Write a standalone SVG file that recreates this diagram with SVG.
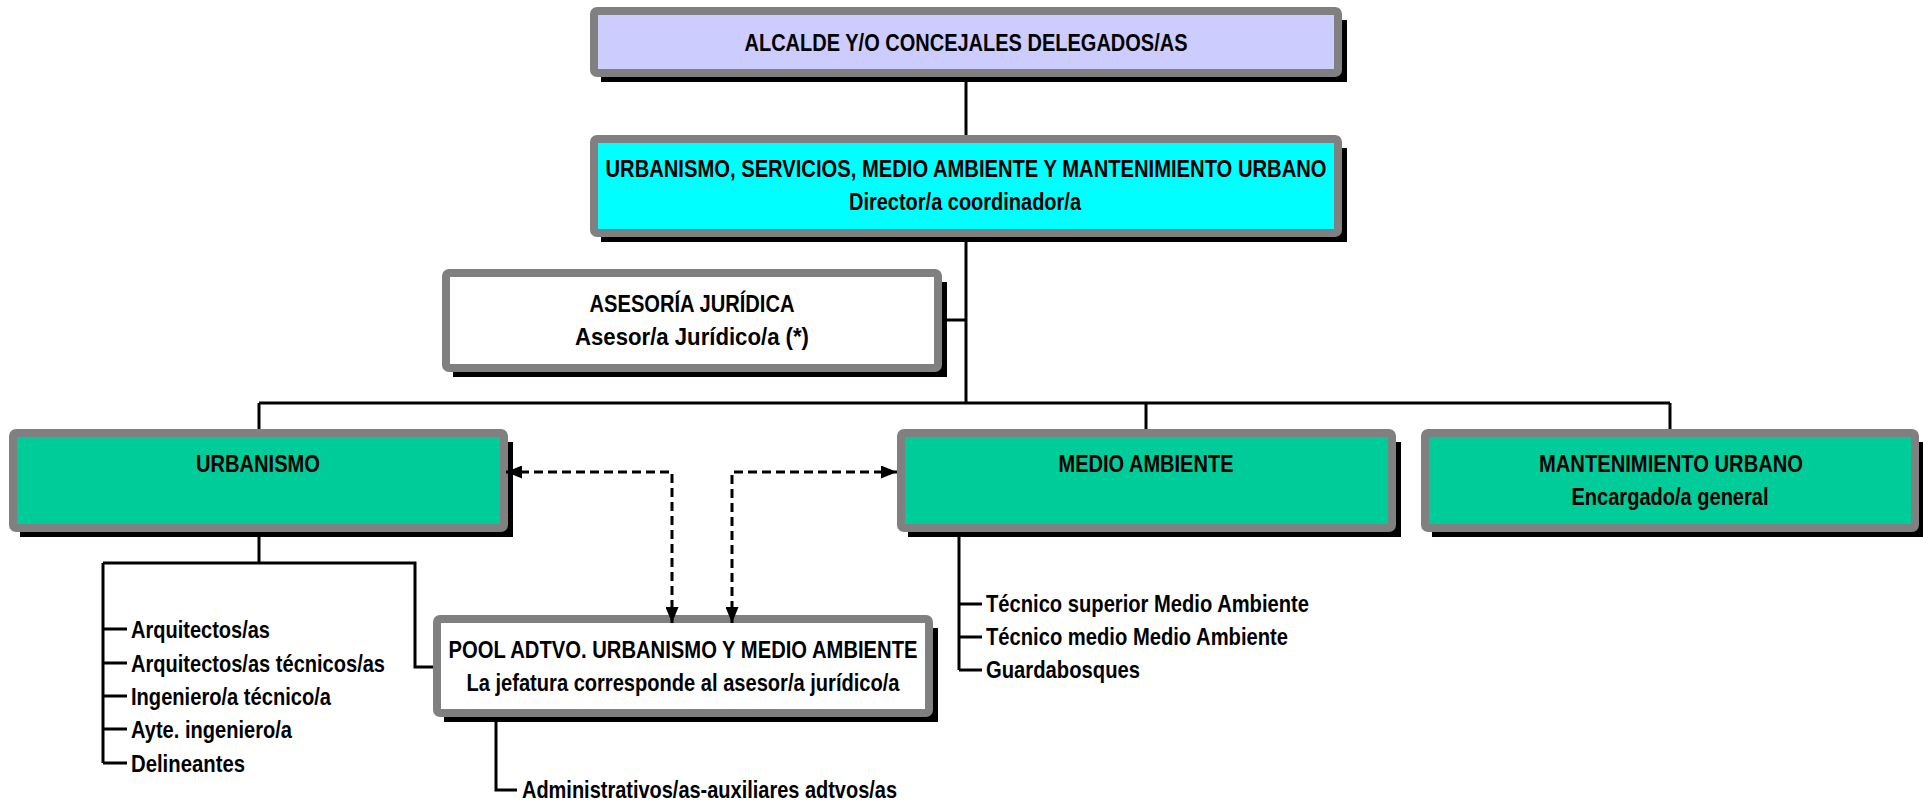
<svg xmlns="http://www.w3.org/2000/svg" width="1923" height="805" viewBox="0 0 1923 805">
<style>
.box{stroke:#808080;stroke-width:8}
.sh{fill:#000}
.t{font-family:"Liberation Sans",Arial,sans-serif;font-weight:bold;font-size:24px;fill:#000}
.m{text-anchor:middle}
.c{stroke:#000;stroke-width:3;fill:none}
.d{stroke:#000;stroke-width:3;fill:none;stroke-dasharray:9 5;marker-start:url(#ah);marker-end:url(#ah)}
</style>
<defs>
<marker id="ah" viewBox="0 0 16 13" refX="16" refY="6.5" markerWidth="16" markerHeight="13" markerUnits="userSpaceOnUse" orient="auto-start-reverse"><path d="M0,0 L16,6.5 L0,13 z" fill="#000"/></marker>
</defs>
<rect width="1923" height="805" fill="#fff"/>

<g id="alcalde">
<rect class="sh" x="601" y="20" width="746" height="62"/>
<rect class="box" x="594" y="11" width="744" height="62" rx="3" fill="#CCCCFF"/>
<text class="t m" x="966" y="51" textLength="443" lengthAdjust="spacingAndGlyphs">ALCALDE Y/O CONCEJALES DELEGADOS/AS</text>
</g>

<g id="direccion">
<rect class="sh" x="601" y="148" width="746" height="94"/>
<rect class="box" x="594" y="139" width="744" height="94" rx="3" fill="#00FFFF"/>
<text class="t m" x="966" y="177" textLength="721" lengthAdjust="spacingAndGlyphs">URBANISMO, SERVICIOS, MEDIO AMBIENTE Y MANTENIMIENTO URBANO</text>
<text class="t m" x="965" y="210" textLength="232" lengthAdjust="spacingAndGlyphs">Director/a coordinador/a</text>
</g>

<g id="asesoria">
<rect class="sh" x="453" y="282" width="494" height="95"/>
<rect class="box" x="446" y="273" width="492" height="95" rx="3" fill="#FFFFFF"/>
<text class="t m" x="692" y="312" textLength="205" lengthAdjust="spacingAndGlyphs">ASESORÍA JURÍDICA</text>
<text class="t m" x="692" y="345" textLength="234" lengthAdjust="spacingAndGlyphs">Asesor/a Jurídico/a (*)</text>
</g>

<g id="urbanismo">
<rect class="sh" x="20" y="442" width="493" height="95"/>
<rect class="box" x="13" y="433" width="491" height="95" rx="3" fill="#00CC99"/>
<text class="t m" x="258" y="472" textLength="124" lengthAdjust="spacingAndGlyphs">URBANISMO</text>
</g>

<g id="medio-ambiente">
<rect class="sh" x="908" y="442" width="493" height="95"/>
<rect class="box" x="901" y="433" width="491" height="95" rx="3" fill="#00CC99"/>
<text class="t m" x="1146" y="472" textLength="175" lengthAdjust="spacingAndGlyphs">MEDIO AMBIENTE</text>
</g>

<g id="mantenimiento">
<rect class="sh" x="1432" y="442" width="492" height="95"/>
<rect class="box" x="1425" y="433" width="490" height="95" rx="3" fill="#00CC99"/>
<text class="t m" x="1671" y="472" textLength="264" lengthAdjust="spacingAndGlyphs">MANTENIMIENTO URBANO</text>
<text class="t m" x="1670" y="505" textLength="197" lengthAdjust="spacingAndGlyphs">Encargado/a general</text>
</g>

<g id="pool">
<rect class="sh" x="444" y="628" width="494" height="94"/>
<rect class="box" x="437" y="619" width="492" height="94" rx="3" fill="#FFFFFF"/>
<text class="t m" x="683" y="658" textLength="469" lengthAdjust="spacingAndGlyphs">POOL ADTVO. URBANISMO Y MEDIO AMBIENTE</text>
<text class="t m" x="683" y="691" textLength="433" lengthAdjust="spacingAndGlyphs">La jefatura corresponde al asesor/a jurídico/a</text>
</g>

<g id="urbanismo-puestos">
<text class="t" x="131" y="638" textLength="139" lengthAdjust="spacingAndGlyphs">Arquitectos/as</text>
<text class="t" x="131" y="672" textLength="254" lengthAdjust="spacingAndGlyphs">Arquitectos/as técnicos/as</text>
<text class="t" x="131" y="705" textLength="200" lengthAdjust="spacingAndGlyphs">Ingeniero/a técnico/a</text>
<text class="t" x="131" y="738" textLength="161" lengthAdjust="spacingAndGlyphs">Ayte. ingeniero/a</text>
<text class="t" x="131" y="772" textLength="114" lengthAdjust="spacingAndGlyphs">Delineantes</text>
</g>

<g id="medio-ambiente-puestos">
<text class="t" x="986" y="612" textLength="323" lengthAdjust="spacingAndGlyphs">Técnico superior Medio Ambiente</text>
<text class="t" x="986" y="645" textLength="302" lengthAdjust="spacingAndGlyphs">Técnico medio Medio Ambiente</text>
<text class="t" x="986" y="678" textLength="154" lengthAdjust="spacingAndGlyphs">Guardabosques</text>
</g>

<g id="pool-puestos">
<text class="t" x="522" y="798" textLength="375" lengthAdjust="spacingAndGlyphs">Administrativos/as-auxiliares adtvos/as</text>
</g>

<g id="connectors">
<path class="c" d="M966,77 V135"/>
<path class="c" d="M966,237 V403"/>
<path class="c" d="M947,320 H966"/>
<path class="c" d="M259,403 H1670"/>
<path class="c" d="M259,403 V429"/>
<path class="c" d="M1146,403 V429"/>
<path class="c" d="M1670,403 V429"/>
<path class="c" d="M259,532 V563"/>
<path class="c" d="M103,563 H415 V667 H433"/>
<path class="c" d="M103,563 V763"/>
<path class="c" d="M103,629 H127 M103,663 H127 M103,696 H127 M103,729 H127 M103,763 H127"/>
<path class="c" d="M496,717 V790 H517"/>
<path class="c" d="M959,532 V670"/>
<path class="c" d="M959,604 H982 M959,637 H982 M959,670 H982"/>
<path class="d" d="M506,472 H672 V623"/>
<path class="d" d="M897,472 H732 V623"/>
</g>
</svg>
